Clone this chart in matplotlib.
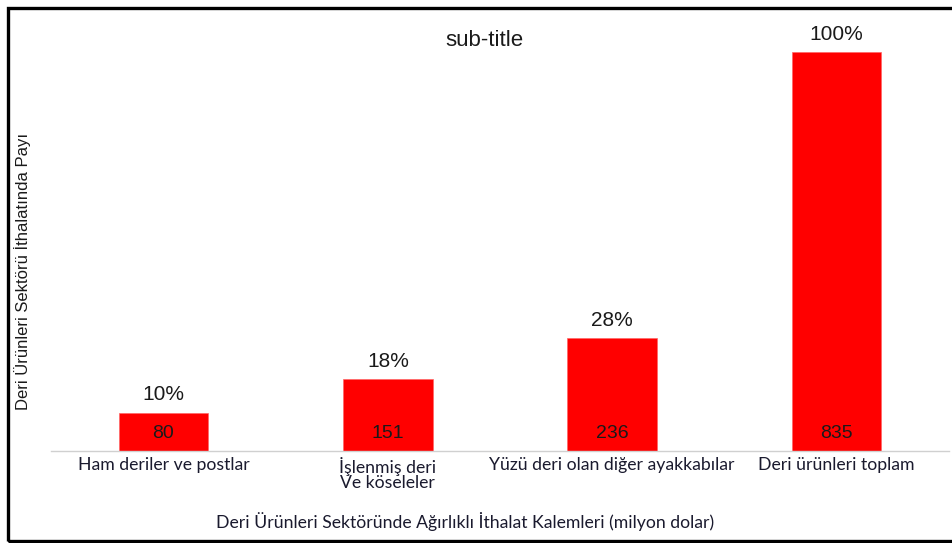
import matplotlib.pyplot as plt
from matplotlib.patches import Rectangle

categories = ['Ham deriler ve postlar', 'İşlenmiş deri\nVe köseleler',
              'Yüzü deri olan diğer ayakkabılar', 'Deri ürünleri toplam']
values = [80, 151, 236, 835]
share_labels = ['10%', '18%', '28%', '100%']

total = values[-1]
shares = [v / total * 100 for v in values]

fig = plt.figure(figsize=(9.52, 5.43), dpi=100)
ax = fig.add_axes([0.0539, 0.1694, 0.9427, 0.7348])

x = range(len(categories))
bars = ax.bar(x, shares, width=0.4, color='#ff0000', edgecolor='#ff6666', linewidth=0.5)
ax.set_xlim(-0.5, len(categories) - 0.5)
ax.set_ylim(0, 100)

for b, v, s in zip(bars, values, share_labels):
    cx = b.get_x() + b.get_width() / 2
    ax.text(cx, 4.5, str(v), ha='center', va='center', fontsize=14,
            color='#1a1a1a', family='Liberation Sans')
    ax.annotate(s, (cx, b.get_height()), xytext=(0, 6), textcoords='offset points',
                ha='center', va='bottom', fontsize=15, color='#1a1a1a',
                family='Liberation Sans', annotation_clip=False)

ax.set_xticks(list(x))
ax.set_xticklabels(categories, fontsize=12.7, family='Lato', color='#1a1a2e',
                   linespacing=0.95)
ax.tick_params(axis='x', length=0, pad=4)
ax.set_yticks([])
for side in ['top', 'right', 'left']:
    ax.spines[side].set_visible(False)
ax.spines['bottom'].set_color('#d0d0d0')
ax.spines['bottom'].set_linewidth(1.0)

fig.text(0.509, 0.926, 'sub-title', ha='center', va='center', fontsize=16,
         family='Liberation Sans', color='#1a1a1a')
fig.text(0.024, 0.5, 'Deri Ürünleri Sektörü İthalatında Payı', rotation=90,
         ha='center', va='center', fontsize=12, family='Liberation Sans',
         color='#1a1a1a')
fig.text(0.488, 0.0405, 'Deri Ürünleri Sektöründe Ağırlıklı İthalat Kalemleri (milyon dolar)',
         ha='center', va='center', fontsize=12.7, family='Lato', color='#1a1a2e')

# outer frame
fig.patches.append(Rectangle((8 / 952, 2.5 / 543), 1.2, 533 / 543, transform=fig.transFigure,
                             fill=False, edgecolor='black', linewidth=2.4))

fig.savefig('out.png', dpi=100)
